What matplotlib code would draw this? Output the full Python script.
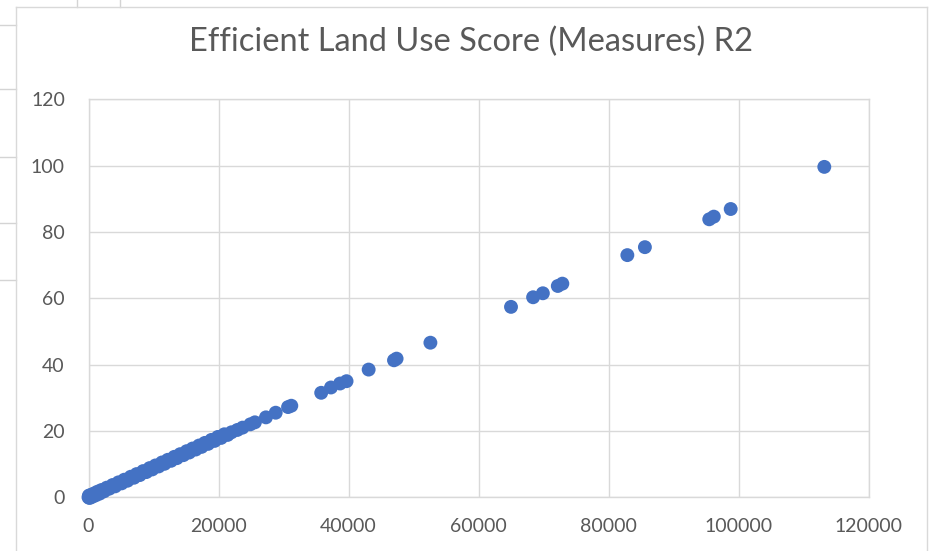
import matplotlib
matplotlib.use("Agg")
import matplotlib.pyplot as plt
from matplotlib.lines import Line2D

# Data (x = measure, y = score)
dense_x = [0, 60, 150, 250, 380, 520, 700, 900, 1100, 1400, 1700, 2000, 2400, 2800,
           3200, 3700, 4100, 4600, 5100, 5500, 6000, 6500, 7000, 7400, 7900, 8400,
           8900, 9400, 9800, 10300, 10800, 11300, 11700, 12200, 12700, 13200, 13600,
           14100, 14600, 15100, 15500, 16000, 16500, 17000, 17400, 17900, 18400,
           18900, 19400, 19900, 20400, 20900, 21400]
dense_y = [0.0, 0.5, -0.2, 0.6, 0.0, 0.8, 0.3, 1.2, 0.6, 1.7, 1.1, 2.2, 1.8, 2.9,
           2.6, 3.7, 3.3, 4.5, 4.2, 5.3, 5.0, 6.2, 5.9, 7.0, 6.7, 7.9, 7.6, 8.8,
           8.4, 9.6, 9.3, 10.5, 10.1, 11.3, 11.0, 12.2, 11.8, 13.0, 12.7, 13.9,
           13.5, 14.7, 14.4, 15.6, 15.2, 16.4, 16.1, 17.3, 17.0, 18.2, 17.9, 19.0,
           18.8]

sparse_x = [22000, 22900, 23700, 24900, 25600, 27300, 28800, 30700, 31200, 35800,
            37300, 38700, 39700, 43100, 47000, 47400, 52600, 65000, 68400, 69900,
            72200, 72900, 82900, 85600, 95500, 96200, 98800, 113200]
sparse_y = [19.6, 20.3, 21.0, 22.0, 22.6, 24.1, 25.5, 27.2, 27.6, 31.5,
            33.1, 34.3, 35.0, 38.5, 41.3, 41.8, 46.6, 57.4, 60.3, 61.5,
            63.7, 64.4, 73.0, 75.4, 83.8, 84.6, 86.9, 99.6]

x_ticks = [0, 20000, 40000, 60000, 80000, 100000, 120000]
y_ticks = [0, 20, 40, 60, 80, 100, 120]

title = "Efficient Land Use Score (Measures) R2"

plt.rcParams['font.family'] = ['Lato', 'DejaVu Sans']

W, H = 932, 551
fig = plt.figure(figsize=(W / 100, H / 100), dpi=100)
fig.patch.set_facecolor('white')

grey = '#d9d9d9'
cell = '#d4d4d4'

def px_line(x0, y0, x1, y1, color, lw=1.0):
    fig.add_artist(Line2D([x0 / W, x1 / W], [1 - y0 / H, 1 - y1 / H],
                          transform=fig.transFigure, color=color, lw=lw))

# spreadsheet cells peeking out around the chart
for yy in [25, 89, 157, 223, 280]:
    px_line(0, yy, 16, yy, cell)
for xx in [77, 120]:
    px_line(xx, 0, xx, 7, cell)

# chart border
px_line(16, 7, 927, 7, grey)
px_line(16, 7, 16, H, grey)
px_line(927, 7, 927, H, grey)

ax = fig.add_axes([88.5 / W, 53.7 / H, 780 / W, 398.1 / H])
ax.scatter(dense_x + sparse_x, dense_y + sparse_y, s=100, color='#4472C4',
           edgecolors='none', zorder=3, clip_on=False)

ax.set_xlim(0, 120000)
ax.set_ylim(0, 120)
ax.set_xticks(x_ticks)
ax.set_yticks(y_ticks)
ax.set_xticklabels([str(v) for v in x_ticks])
ax.set_yticklabels([str(v) for v in y_ticks])
ax.grid(True, color=grey, lw=1.0)
ax.set_axisbelow(True)
for s in ax.spines.values():
    s.set_color(grey)
    s.set_linewidth(1.0)
ax.tick_params(length=0, labelsize=14, labelcolor='#595959')
ax.tick_params(axis='y', pad=17)
ax.tick_params(axis='x', pad=15)

fig.text(471 / W, 1 - 42 / H, title, ha='center', va='center',
         fontsize=23.5, color='#595959')

fig.savefig('out.png', dpi=100)
